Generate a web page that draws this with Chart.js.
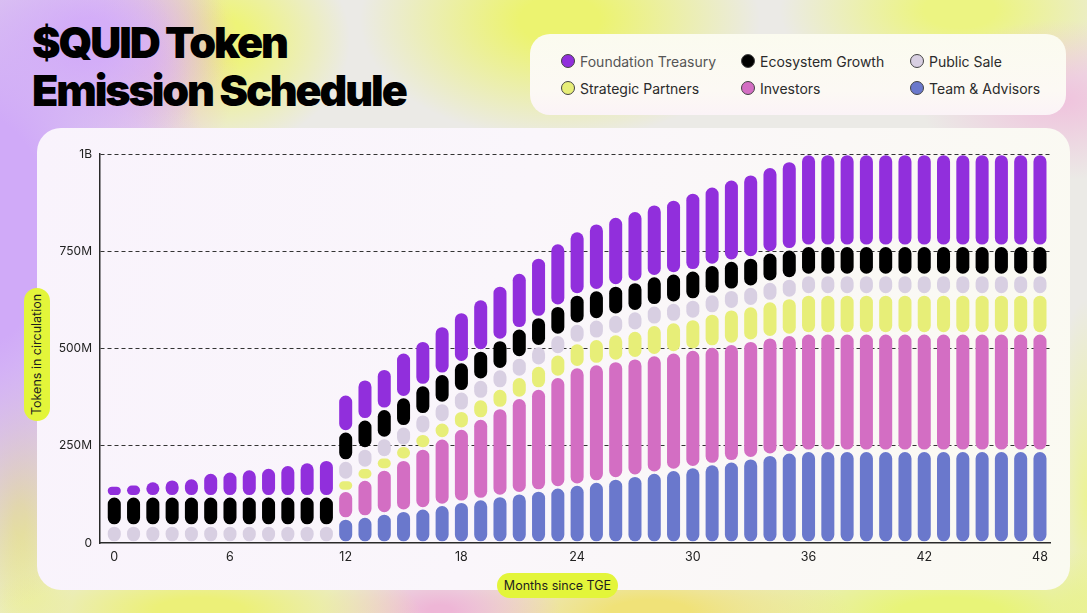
<!DOCTYPE html>
<html>
<head>
<meta charset="utf-8">
<script src="https://cdn.jsdelivr.net/npm/chart.js@4.4.1/dist/chart.umd.min.js"></script>
<style>
  html, body { margin: 0; padding: 0; }
  body {
    width: 1087px; height: 613px; overflow: hidden; position: relative;
    font-family: Inter, "Noto Sans", sans-serif;
    background:
      radial-gradient(ellipse 230px 380px at -20px 230px, rgba(208,170,248,1) 30%, rgba(208,170,248,0) 100%),
      radial-gradient(ellipse 140px 110px at 90px 40px, rgba(214,176,248,1) 20%, rgba(214,176,248,0) 100%),
      radial-gradient(ellipse 90px 120px at 150px 60px, rgba(236,180,225,0.8), rgba(236,180,225,0) 100%),
      radial-gradient(ellipse 130px 110px at 220px 40px, rgba(238,244,120,1) 20%, rgba(238,244,120,0) 100%),
      radial-gradient(ellipse 200px 120px at 560px 20px, rgba(236,243,112,1) 20%, rgba(236,243,112,0) 100%),
      radial-gradient(ellipse 140px 80px at 1060px 100px, rgba(240,190,220,0.9), rgba(240,190,220,0) 100%),
      radial-gradient(ellipse 180px 90px at 960px 10px, rgba(236,244,130,1) 20%, rgba(236,244,130,0) 100%),
      radial-gradient(ellipse 220px 60px at 200px 610px, rgba(236,240,120,1) 20%, rgba(236,240,120,0) 100%),
      radial-gradient(ellipse 120px 50px at 440px 610px, rgba(238,182,214,1) 10%, rgba(238,182,214,0) 100%),
      radial-gradient(ellipse 200px 60px at 650px 612px, rgba(240,226,120,1) 20%, rgba(240,226,120,0) 100%),
      radial-gradient(ellipse 260px 70px at 950px 612px, rgba(232,244,120,1) 20%, rgba(232,244,120,0) 100%),
      radial-gradient(ellipse 60px 160px at 20px 520px, rgba(236,240,130,1) 10%, rgba(236,240,130,0) 100%),
      radial-gradient(ellipse 40px 200px at 1087px 500px, rgba(236,244,140,0.9), rgba(236,244,140,0) 100%),
      #ebeae6;
  }
  .title {
    position: absolute; left: 32px; top: 18px; margin: 0;
    font-family: Inter, sans-serif; font-weight: 900; font-size: 43px;
    line-height: 48px; letter-spacing: -2.1px; color: #000;
  }
  #legend {
    position: absolute; left: 530px; top: 34px; width: 536px; height: 81px;
    border-radius: 20px;
    background: linear-gradient(180deg, #fbfbef 0%, #fcf9f4 70%, #fbf3f7 100%);
  }
  .leg-item { position: absolute; display: flex; align-items: center; font-size: 14px; color: #2b2b2b; white-space: nowrap; }
  .leg-dot { width: 14px; height: 14px; border-radius: 50%; border: 1px solid #444; box-sizing: border-box; margin-right: 5px; }
  #panel {
    position: absolute; left: 37px; top: 128px; width: 1033px; height: 462px;
    border-radius: 24px;
    background: linear-gradient(100deg, #f9f3fc 0%, #faf6fb 45%, #fafaf1 100%);
  }
  #chart { position: absolute; left: 0; top: 0; }
  .pill {
    position: absolute; background: #e3f53a; border-radius: 13px;
    font-size: 12.5px; color: #1e1e1e; display: flex; align-items: center; justify-content: center;
  }
  .ytitle { left: 24px; top: 288px; width: 26px; height: 133px; }
  .ytitle span { transform: rotate(-90deg); white-space: nowrap; display: block; }
  .xtitle { left: 497px; top: 573px; width: 121px; height: 25px; }
</style>
</head>
<body>
<h1 class="title">$QUID Token<br>Emission Schedule</h1>
<div id="legend"></div>
<div id="panel"></div>
<canvas id="chart" width="1087" height="613"></canvas>
<div class="pill ytitle"><span>Tokens in circulation</span></div>
<div class="pill xtitle">Months since TGE</div>
<script>
// months since TGE
const months = Array.from({ length: 49 }, (_, i) => i);

// tokens unlocked per allocation, in millions (stacked bottom -> top)
const teamAdvisors = [0, 0, 0, 0, 0, 0, 0, 0, 0, 0, 0, 0,
  63, 68, 76, 83, 89, 98, 106, 113, 121, 128, 135, 143,
  150, 158, 166, 173, 181, 188, 195, 203, 210, 218, 227, 233,
  237, 237, 237, 237, 237, 237, 237, 237, 237, 237, 237, 237, 237];
const investors = [0, 0, 0, 0, 0, 0, 0, 0, 0, 0, 0, 0,
  71, 95, 113, 131, 154, 171, 188, 207, 226, 245, 262, 284,
  302, 302, 302, 302, 302, 302, 302, 302, 302, 302, 302, 302,
  302, 302, 302, 302, 302, 302, 302, 302, 302, 302, 302, 302, 302];
const strategicPartners = [0, 0, 0, 0, 0, 0, 0, 0, 0, 0, 0, 0,
  28, 30, 31, 36, 38, 41, 46, 50, 50, 54, 59, 58,
  62, 65, 69, 71, 78, 78, 79, 85, 89, 89, 93, 95,
  100, 100, 100, 100, 100, 100, 100, 100, 100, 100, 100, 100, 100];
const publicSale = [45, 45, 45, 45, 45, 45, 45, 45, 45, 45, 45, 45,
  50, 50, 50, 50, 50, 50, 50, 50, 50, 50, 50, 50,
  50, 50, 50, 50, 50, 50, 50, 50, 50, 50, 50, 50,
  50, 50, 50, 50, 50, 50, 50, 50, 50, 50, 50, 50, 50];
const ecosystemGrowth = [75, 75, 75, 75, 75, 75, 75, 75, 75, 75, 75, 75,
  75, 75, 75, 75, 75, 75, 75, 75, 75, 75, 75, 75,
  75, 75, 75, 75, 75, 75, 75, 75, 75, 75, 75, 75,
  75, 75, 75, 75, 75, 75, 75, 75, 75, 75, 75, 75, 75];
const foundationTreasury = [28, 31, 39, 44, 47, 61, 64, 70, 74, 81, 88, 94,
  95, 103, 103, 115, 114, 123, 129, 132, 140, 143, 153, 161,
  163, 172, 177, 183, 185, 190, 200, 202, 209, 214, 220, 227,
  236, 236, 236, 236, 236, 236, 236, 236, 236, 236, 236, 236, 236];

const seriesNames = ['Team & Advisors', 'Investors', 'Strategic Partners', 'Public Sale', 'Ecosystem Growth', 'Foundation Treasury'];
const seriesColors = ['#6a78cc', '#d36ec3', '#e7ee78', '#d8cfe2', '#000000', '#912fdc'];
const seriesValues = [teamAdvisors, investors, strategicPartners, publicSale, ecosystemGrowth, foundationTreasury];

const yTicks = [0, 250, 500, 750, 1000];
const yTickLabels = ['0', '250M', '500M', '750M', '1B'];
const xTicks = [0, 6, 12, 18, 24, 30, 36, 42, 48];

// legend (top-right box), reverse of stacking order, 3 per row
const legendPos = [[568, 61], [748, 61], [917, 61], [568, 88], [748, 88], [917, 88]];
const legendEl = document.getElementById('legend');
seriesNames.slice().reverse().forEach((name, i) => {
  const idx = seriesNames.length - 1 - i;
  const item = document.createElement('div');
  item.className = 'leg-item';
  item.style.left = (legendPos[i][0] - 7 - 530) + 'px';
  item.style.top = (legendPos[i][1] - 9 - 34) + 'px';
  item.style.height = '18px';
  item.innerHTML = '<span class="leg-dot" style="background:' + seriesColors[idx] + '"></span>' + name;
  if (i === 0) item.style.color = '#555';
  legendEl.appendChild(item);
});

// object radius so every stacked segment gets its own rounded ends
const pill = { topLeft: 20, topRight: 20, bottomLeft: 20, bottomRight: 20 };

const ctx = document.getElementById('chart').getContext('2d');
new Chart(ctx, {
  type: 'bar',
  data: {
    labels: months,
    datasets: seriesValues.map((vals, i) => ({
      label: seriesNames[i],
      data: vals,
      backgroundColor: seriesColors[i],
      borderColor: 'rgba(0,0,0,0)', // transparent border = small gap between pills
      borderWidth: 1.2,
      borderSkipped: false,
      borderRadius: pill,
      inflateAmount: 0,
      barPercentage: 0.8,
      categoryPercentage: 1,
    })),
  },
  options: {
    responsive: false,
    animation: false,
    devicePixelRatio: 1,
    layout: { padding: { left: 40, top: 154, right: 37, bottom: 40 } },
    plugins: { legend: { display: false }, tooltip: { enabled: false } },
    scales: {
      x: {
        type: 'linear',
        stacked: true,
        offset: false,
        min: -0.74,
        max: 48.52,
        afterFit: (s) => { s.height = 30; },
        afterBuildTicks: (s) => { s.ticks = xTicks.map((v) => ({ value: v })); },
        grid: { display: false, drawTicks: false, offset: false },
        border: { display: true, color: '#2a2a2a', width: 1.5 },
        ticks: { color: '#222', font: { family: 'Inter', size: 12.5 }, padding: 7, maxRotation: 0, autoSkip: false },
      },
      y: {
        stacked: true,
        min: 0,
        max: 1000,
        afterFit: (s) => { s.width = 60; },
        afterBuildTicks: (s) => { s.ticks = yTicks.map((v) => ({ value: v })); },
        grid: {
          color: (c) => (c.tick && c.tick.value === 0 ? 'rgba(0,0,0,0)' : '#333'),
          lineWidth: 1,
          drawTicks: false,
        },
        border: { display: true, color: '#2a2a2a', width: 1.5, dash: [4, 3] },
        ticks: {
          color: '#222',
          font: { family: 'Inter', size: 12 },
          padding: 8,
          autoSkip: false,
          callback: (v) => yTickLabels[yTicks.indexOf(v)],
        },
      },
    },
  },
});
</script>
</body>
</html>
